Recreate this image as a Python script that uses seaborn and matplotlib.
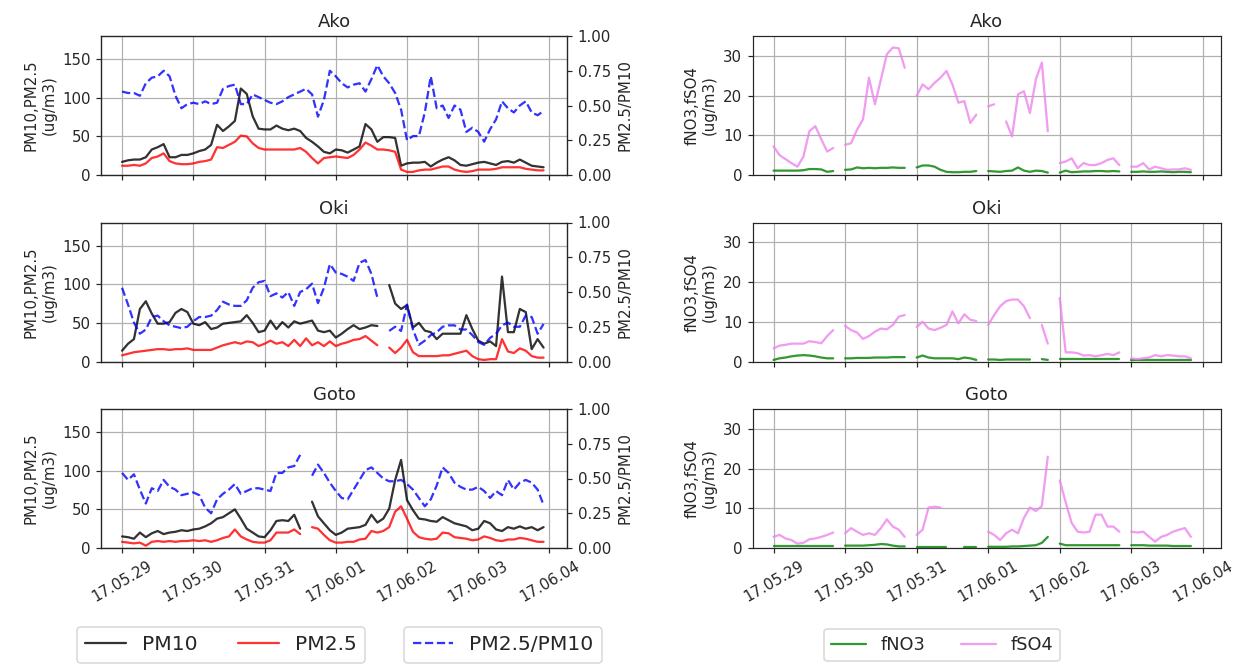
"""
plot.py
PM10 / PM2.5 and fine nitrate / sulfate at three stations (Ako, Oki, Goto),
29 May - 3 June 2017. Values read off the reference chart every 2 hours.
"""
import numpy as np
import pandas as pd
import matplotlib
matplotlib.use("Agg")
import matplotlib.pyplot as plt
import matplotlib.dates as mdates
import seaborn as sns

sns.set_style("ticks", {"axes.grid": True, "grid.color": "#b0b0b0"})
plt.rcParams["font.family"] = "DejaVu Sans"

nan = np.nan

# ====================== DATA (2-hourly) ======================
TIMES = pd.date_range("2017-05-29 00:00", periods=72, freq="2h")
STATIONS = ["Ako", "Oki", "Goto"]

AKO_PM10 = [17, 19, 20, 20, 23, 33, 36, 40, 23, 23,
            26, 26, 28, 31, 33, 39, 65, 57, 63, 70,
            112, 105, 76, 60, 59, 59, 64, 60, 58, 60,
            57, 48, 43, 37, 30, 28, 33, 32, 29, 33,
            37, 66, 59, 43, 49, 49, 48, 12, 15, 16,
            16, 17, 11, 16, 20, 23, 19, 13, 12, 14,
            16, 17, 15, 13, 17, 18, 16, 20, 16, 12,
            11, 10]
AKO_PM25 = [12, 12, 13, 12, 15, 22, 24, 28, 18, 15,
            14, 14, 15, 17, 18, 20, 36, 35, 39, 43,
            51, 50, 41, 35, 33, 33, 33, 33, 33, 33,
            35, 30, 22, 15, 22, 23, 24, 23, 22, 26,
            33, 42, 38, 33, 33, 32, 30, 7, 4, 4,
            6, 7, 7, 9, 11, 11, 7, 5, 4, 5,
            7, 7, 7, 8, 10, 10, 10, 10, 8, 7,
            6, 6]
AKO_RATIO = [.60, .59, .59, .57, .66, .70, .71, .75, .71, .57,
             .48, .51, .52, .51, .53, .51, .52, .62, .64, .65,
             .51, .51, .58, .56, .54, .52, .51, .53, .56, .58,
             .60, .62, .58, .42, .54, .75, .71, .66, .63, .65,
             .66, .60, .69, .79, .71, .66, .59, .47, .25, .28,
             .28, .45, .71, .48, .50, .41, .50, .47, .31, .34,
             .31, .24, .33, .40, .53, .48, .45, .50, .53, .45,
             .43, .46]

OKI_PM10 = [14, 23, 29, 68, 78, 62, 49, 49, 51, 63,
            68, 64, 49, 47, 51, 42, 44, 49, 50, 51,
            52, 60, 50, 38, 40, 53, 42, 51, 44, 52,
            49, 51, 53, 40, 38, 40, 31, 36, 42, 47,
            42, 44, 47, 46, nan, 99, 75, 68, 73, 44,
            50, 40, 38, 29, 36, 36, 36, 36, 60, 42,
            27, 23, 26, 20, 110, 38, 38, 68, 64, 16,
            29, 18]
OKI_PM25 = [8, 10, 12, 13, 14, 15, 16, 16, 15, 16,
            16, 17, 15, 15, 15, 15, 18, 21, 23, 25,
            23, 26, 25, 20, 23, 27, 23, 25, 20, 28,
            20, 30, 21, 25, 20, 26, 20, 23, 25, 28,
            29, 33, 27, 21, nan, 18, 11, 18, 28, 12,
            7, 7, 7, 7, 8, 8, 10, 12, 14, 7,
            3, 2, 3, 3, 29, 13, 11, 17, 14, 7,
            5, 5]
OKI_RATIO = [.53, .41, .28, .20, .23, .32, .33, .29, .26, .25,
             .24, .25, .29, .32, .32, .33, .37, .43, .41, .40,
             .40, .44, .53, .57, .58, .47, .49, .46, .50, .40,
             .50, .52, .56, .42, .53, .70, .64, .63, .61, .58,
             .71, .73, .63, .46, nan, .22, .25, .22, .41, .23,
             .12, .15, .19, .21, .25, .26, .26, .23, .23, .19,
             .14, .12, .17, .20, .26, .28, .25, .25, .33, .32,
             .20, .27]

GOTO_PM10 = [15, 14, 12, 20, 14, 19, 22, 18, 20, 21,
             23, 22, 24, 25, 28, 32, 38, 40, 45, 50,
             38, 25, 20, 15, 14, 23, 35, 36, 35, 43,
             25, nan, 60, 41, 32, 23, 17, 20, 25, 26,
             27, 30, 43, 33, 38, 51, 88, 114, 62, 49,
             38, 37, 35, 34, 40, 36, 32, 30, 28, 23,
             25, 35, 32, 24, 22, 27, 25, 28, 25, 27,
             23, 27]
GOTO_PM25 = [8, 7, 6, 7, 3, 8, 9, 8, 9, 8,
             9, 9, 10, 9, 10, 8, 10, 13, 15, 24,
             15, 11, 8, 7, 7, 10, 20, 20, 20, 24,
             18, nan, 27, 25, 17, 10, 7, 7, 8, 8,
             11, 12, 22, 20, 22, 27, 47, 54, 38, 21,
             14, 12, 11, 12, 20, 19, 14, 13, 12, 10,
             11, 15, 13, 10, 9, 11, 11, 13, 12, 10,
             8, 8]
GOTO_RATIO = [.54, .49, .53, .42, .32, .43, .41, .49, .44, .42,
              .38, .39, .40, .38, .29, .25, .35, .39, .42, .46,
              .39, .41, .43, .43, .42, .41, .54, .54, .58, .59,
              .67, nan, .52, .60, .54, .47, .41, .36, .35, .42,
              .49, .56, .58, .54, .50, .48, .48, .49, .46, .42,
              .36, .30, .35, .45, .58, .54, .47, .44, .42, .42,
              .44, .41, .36, .41, .38, .49, .42, .47, .49, .47,
              .42, .31]

AKO_FNO3 = [1.1, 1.1, 1.1, 1.1, 1.1, 1.2, 1.5, 1.5, 1.4, 0.8,
            1.0, nan, 1.3, 1.4, 1.9, 1.7, 1.8, 1.7, 1.8, 1.8,
            1.9, 1.8, 1.8, nan, 1.9, 2.4, 2.4, 2.1, 1.3, 0.8,
            0.7, 0.7, 0.8, 0.8, 1.0, nan, 1.0, 0.9, 0.8, 1.0,
            1.1, 1.9, 1.1, 0.8, 1.1, 1.0, 0.6, nan, 0.6, 1.1,
            0.7, 0.8, 0.9, 0.9, 1.0, 1.0, 0.9, 1.0, 0.9, nan,
            0.8, 0.8, 0.9, 0.8, 0.8, 0.9, 0.8, 0.7, 0.8, 0.8,
            0.7, nan]
AKO_FSO4 = [7.2, 5.0, 4.0, 3.0, 2.1, 4.6, 11.0, 12.3, 9.0, 5.9,
            6.8, nan, 7.6, 8.0, 11.4, 14.0, 24.5, 17.8, 24.0, 30.4,
            32.1, 31.9, 27.0, nan, 19.9, 22.8, 21.6, 23.2, 24.5, 26.2,
            22.8, 18.2, 18.6, 13.1, 15.2, nan, 17.3, 17.8, nan, 13.5,
            9.7, 20.3, 21.1, 15.6, 24.1, 28.3, 11.0, nan, 3.0, 3.4,
            4.2, 1.7, 3.0, 2.5, 2.5, 3.0, 3.8, 4.2, 2.5, nan,
            2.1, 2.1, 3.0, 1.4, 2.1, 1.7, 1.3, 1.4, 1.4, 1.7,
            1.3, nan]

OKI_FNO3 = [0.4, 0.8, 1.0, 1.3, 1.5, 1.6, 1.5, 1.3, 1.0, 0.8,
            0.8, nan, 0.8, 0.8, 0.9, 0.9, 0.9, 1.0, 1.0, 1.0,
            1.1, 1.1, 1.1, nan, 1.0, 1.5, 1.0, 0.8, 0.8, 0.8,
            0.8, 0.6, 1.0, 0.8, 0.4, nan, 0.5, 0.5, 0.4, 0.5,
            0.5, 0.5, 0.5, 0.5, nan, 0.6, 0.4, nan, 0.6, 0.6,
            0.6, 0.6, 0.6, 0.6, 0.6, 0.6, 0.6, 0.6, 0.6, nan,
            0.5, 0.5, 0.5, 0.5, 0.5, 0.5, 0.5, 0.5, 0.5, 0.5,
            0.5, nan]
OKI_FSO4 = [3.3, 4.0, 4.2, 4.5, 4.5, 4.5, 5.1, 4.9, 4.6, 6.4,
            7.9, nan, 9.0, 7.9, 7.3, 5.7, 6.4, 7.5, 8.3, 8.1,
            9.2, 11.3, 11.7, nan, 8.7, 10.0, 8.3, 7.9, 8.5, 9.2,
            12.6, 9.6, 11.9, 10.5, 10.2, nan, 9.2, 11.7, 13.9, 15.2,
            15.6, 15.6, 13.9, 10.9, nan, 9.2, 4.5, nan, 16.0, 2.3,
            2.3, 2.1, 1.5, 1.6, 1.3, 1.6, 1.9, 1.6, 2.3, nan,
            0.8, 0.6, 0.8, 1.0, 1.6, 1.3, 1.6, 1.5, 1.3, 1.3,
            0.8, nan]

GOTO_FNO3 = [0.4, 0.4, 0.4, 0.4, 0.4, 0.4, 0.4, 0.4, 0.4, 0.4,
             0.4, nan, 0.6, 0.6, 0.6, 0.6, 0.7, 0.8, 1.0, 0.9,
             0.6, 0.4, 0.4, nan, 0.3, 0.3, 0.3, 0.3, 0.3, 0.3,
             nan, nan, 0.3, 0.3, 0.3, nan, 0.3, 0.3, 0.3, 0.3,
             0.4, 0.4, 0.5, 0.6, 0.7, 1.3, 2.8, nan, 1.1, 0.7,
             0.7, 0.7, 0.7, 0.7, 0.7, 0.7, 0.7, 0.7, 0.7, nan,
             0.7, 0.7, 0.7, 0.6, 0.6, 0.6, 0.6, 0.5, 0.5, 0.5,
             0.5, nan]
GOTO_FSO4 = [2.8, 3.3, 2.4, 2.0, 1.1, 1.3, 2.2, 2.4, 2.8, 3.3,
             3.9, nan, 3.7, 5.0, 4.1, 3.3, 3.7, 3.3, 5.0, 7.2,
             5.4, 4.6, 2.8, nan, 3.3, 4.6, 10.2, 10.4, 10.2, nan,
             nan, nan, nan, nan, nan, nan, 4.1, 3.3, 2.0, 3.7,
             4.6, 3.7, 7.6, 10.2, 9.3, 10.6, 23.0, nan, 17.0, 11.5,
             6.3, 4.1, 3.9, 4.1, 8.4, 8.4, 5.4, 5.4, 4.1, nan,
             4.1, 3.9, 4.1, 2.8, 1.6, 2.8, 3.3, 4.1, 4.6, 5.0,
             2.8, nan]

PM10 = [AKO_PM10, OKI_PM10, GOTO_PM10]
PM25 = [AKO_PM25, OKI_PM25, GOTO_PM25]
RATIO = [AKO_RATIO, OKI_RATIO, GOTO_RATIO]
FNO3 = [AKO_FNO3, OKI_FNO3, GOTO_FNO3]
FSO4 = [AKO_FSO4, OKI_FSO4, GOTO_FSO4]


def draw(ax, values, color, ls="-"):
    """Draw one series; missing values split the line into separate pieces."""
    df = pd.DataFrame({"time": TIMES, "value": values})
    df["piece"] = df["value"].isna().cumsum()
    df = df.dropna()
    sns.lineplot(data=df, x="time", y="value", units="piece", estimator=None,
                 color=color, linestyle=ls, alpha=0.8, lw=1.5,
                 legend=False, ax=ax)
    return ax.lines[-1]


def style_time_axis(ax, show_labels):
    ax.xaxis.set_major_locator(mdates.DayLocator())
    ax.xaxis.set_major_formatter(mdates.DateFormatter("%y.%m.%d"))
    ax.set_xlim(TIMES[0] - pd.Timedelta(hours=7), TIMES[0] + pd.Timedelta(hours=150))
    ax.set_xlabel("")
    if show_labels:
        plt.setp(ax.get_xticklabels(), rotation=30)
    else:
        ax.tick_params(labelbottom=False)


def main():
    fig = plt.figure(figsize=(1248 / 108, 670 / 108), dpi=108)

    W, H = 1248, 670
    tops = [36, 222.5, 409]
    height = 139

    for i, name in enumerate(STATIONS):
        bottom = 1 - (tops[i] + height) / H

        # ---- left: PM10, PM2.5 and their ratio ----
        ax = fig.add_axes([101.3 / W, bottom, 466 / W, height / H])
        h_pm10 = draw(ax, PM10[i], "black")
        h_pm25 = draw(ax, PM25[i], "red")
        ax.set_ylim(0, 180)
        ax.set_yticks([0, 50, 100, 150])
        ax.set_ylabel("PM10,PM2.5\n(ug/m3)")
        ax.set_title(name)
        style_time_axis(ax, i == 2)

        ax2 = ax.twinx()
        ax2.grid(False)
        h_ratio = draw(ax2, RATIO[i], "blue", "--")
        ax2.set_ylim(0, 1)
        ax2.set_yticks([0, 0.25, 0.5, 0.75, 1.0])
        ax2.yaxis.set_major_formatter(plt.FormatStrFormatter("%.2f"))
        ax2.set_ylabel("PM2.5/PM10")
        style_time_axis(ax2, i == 2)

        # ---- right: fine nitrate and sulfate ----
        axr = fig.add_axes([752.7 / W, bottom, 468 / W, height / H])
        h_no3 = draw(axr, FNO3[i], "green")
        h_so4 = draw(axr, FSO4[i], "violet")
        axr.set_ylim(0, 35)
        axr.set_yticks([0, 10, 20, 30])
        axr.set_ylabel("fNO3,fSO4\n(ug/m3)")
        axr.set_title(name)
        style_time_axis(axr, i == 2)

    fig.legend([h_pm10, h_pm25], ["PM10", "PM2.5"], ncol=2, loc="center",
               bbox_to_anchor=(221 / W, 1 - 645 / H), fontsize=13.5)
    fig.legend([h_ratio], ["PM2.5/PM10"], loc="center",
               bbox_to_anchor=(503 / W, 1 - 645 / H), fontsize=13.5)
    fig.legend([h_no3, h_so4], ["fNO3", "fSO4"], ncol=2, loc="center",
               bbox_to_anchor=(942 / W, 1 - 645 / H), fontsize=11.8)

    fig.savefig("out.png", dpi=108)
    plt.close(fig)


if __name__ == "__main__":
    main()
